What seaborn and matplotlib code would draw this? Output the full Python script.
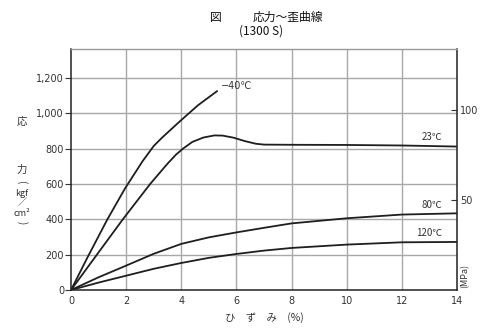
import matplotlib
matplotlib.use("Agg")
import matplotlib.pyplot as plt
import seaborn as sns
import pandas as pd

sns.set_theme(style="white")
plt.rcParams['font.family'] = ['Noto Sans CJK JP', 'DejaVu Sans']

# data (strain %, stress kgf/cm2)
x_m40 = [0, 0.6, 1.32, 1.96, 2.6, 3.0, 3.3, 3.6, 3.95, 4.6, 5.3]
y_m40 = [0, 185, 400, 575, 730, 815, 862, 905, 955, 1045, 1126]

x_23 = [0, 1.0, 1.88, 2.87, 3.5, 3.8, 4.06, 4.4, 4.8, 5.2, 5.5, 5.9, 6.3, 6.7, 7.0, 8, 10, 12, 14]
y_23 = [0, 213, 400, 600, 715, 765, 800, 838, 863, 875, 874, 862, 843, 828, 823, 822, 821, 818, 812]

x_80 = [0, 1, 2, 3, 4, 5, 6, 7, 8, 10, 12, 14]
y_80 = [0, 72, 138, 205, 261, 298, 326, 352, 377, 406, 427, 434]

x_120 = [0, 1, 2, 3, 4, 5, 6, 7, 8, 10, 12, 14]
y_120 = [0, 42, 81, 120, 153, 182, 204, 223, 238, 257, 270, 272]

series_labels = ["−40℃", "23℃", "80℃", "120℃"]
x_ticks = [0, 2, 4, 6, 8, 10, 12, 14]
y_ticks = [0, 200, 400, 600, 800, 1000, 1200]
y_tick_labels = ["0", "200", "400", "600", "800", "1,000", "1,200"]
mpa_ticks = [50, 100]

fig = plt.figure(figsize=(5, 3.32), dpi=100)
ax = fig.add_axes([71/500, 1-290/332, (457-71)/500, (290-48.5)/332])

line_col = "#1e1e1e"
for xs, ys, lab in zip([x_m40, x_23, x_80, x_120], [y_m40, y_23, y_80, y_120], series_labels):
    df = pd.DataFrame({"x": xs, "y": ys})
    sns.lineplot(data=df, x="x", y="y", ax=ax, color=line_col, linewidth=1.3,
                 sort=False, estimator=None, legend=False)

ax.set_xlim(0, 14)
ax.set_ylim(0, 1367)
ax.set_xticks(x_ticks)
ax.set_xticklabels([str(t) for t in x_ticks], fontsize=7, color="#333333",
                   family="DejaVu Sans")
ax.set_yticks(y_ticks)
ax.set_yticklabels(y_tick_labels, fontsize=7, color="#333333", family="DejaVu Sans")
ax.tick_params(axis="x", length=0, pad=4)
ax.tick_params(axis="y", which="major", left=True, length=4, width=0.8,
               color="#333333", pad=1, direction="out")
ax.set_xlabel("")
ax.set_ylabel("")

for t in x_ticks[1:-1]:
    ax.axvline(t, color="#a8a8a8", linewidth=1.0, zorder=0)
for t in y_ticks[1:]:
    ax.axhline(t, color="#a8a8a8", linewidth=1.0, zorder=0)

for side in ["left", "bottom", "right"]:
    ax.spines[side].set_color("#222222")
    ax.spines[side].set_linewidth(1.1)
ax.spines["top"].set_color("#999999")
ax.spines["top"].set_linewidth(1.0)

# right MPa axis
kgf_per_mpa = 10.197
ax2 = ax.twinx()
ax2.set_ylim(0, 1367 / kgf_per_mpa)
ax2.set_yticks(mpa_ticks)
ax2.set_yticklabels([str(t) for t in mpa_ticks], fontsize=7, color="#333333",
                    family="DejaVu Sans")
ax2.tick_params(axis="y", right=True, length=4, width=0.8, color="#333333",
                direction="in", pad=2)
for s in ax2.spines.values():
    s.set_visible(False)
ax2.grid(False)

# curve labels
lab_pos = [(5.45, 1125, "left"), (13.45, 838, "right"), (13.45, 452, "right"), (13.45, 292, "right")]
for (lx, ly, ha), lab in zip(lab_pos, series_labels):
    ax.text(lx, ly, lab, fontsize=7, color="#333333", ha=ha, va="bottom",
            family=["DejaVu Sans", "Noto Sans CJK JP"] if ha == "left" else ["Noto Sans CJK JP"])

# titles
fig.text(216/500, 1-17/332, "図", fontsize=8.5, ha="center", va="center", color="#111111")
fig.text(288/500, 1-17/332, "応力〜歪曲線", fontsize=8.5, ha="center", va="center", color="#111111")
fig.text(261/500, 1-31.5/332, "(1300 S)", fontsize=8.5, ha="center", va="center", color="#111111")

# x label
fig.text(264/500, 1-318/332, "ひ　ず　み　(%)", fontsize=7.5, ha="center", va="center", color="#333333")

# y label (vertical stack)
yl_x = 22/500
fig.text(yl_x, 1-122/332, "応", fontsize=7.5, ha="center", va="center", color="#333333")
fig.text(yl_x, 1-170/332, "力", fontsize=7.5, ha="center", va="center", color="#333333")
fig.text(yl_x, 1-182/332, "(", fontsize=7, ha="center", va="center", rotation=-90, color="#333333")
fig.text(yl_x, 1-193/332, "kgf", fontsize=6.5, ha="center", va="center", color="#333333")
fig.text(yl_x, 1-203/332, "／", fontsize=6.5, ha="center", va="center", color="#333333")
fig.text(yl_x, 1-213/332, "cm²", fontsize=6.5, ha="center", va="center", color="#333333")
fig.text(yl_x, 1-223/332, ")", fontsize=7, ha="center", va="center", rotation=-90, color="#333333")

# MPa label
fig.text(465/500, 1-276/332, "(MPa)", fontsize=6.5, ha="center", va="center", rotation=90, color="#333333")

fig.savefig("out.png", dpi=100)
